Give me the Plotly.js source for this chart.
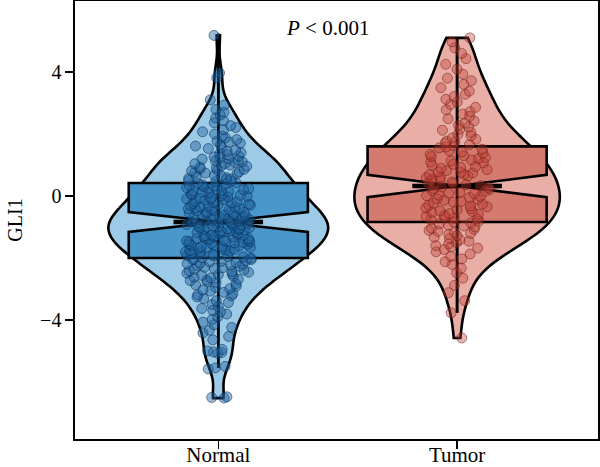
<!DOCTYPE html>
<html>
<head>
<meta charset="utf-8">
<script src="https://cdn.plot.ly/plotly-3.0.1.min.js"></script>
<style>
  html, body { margin: 0; padding: 0; background: #ffffff; }
  #chart { width: 600px; height: 467px; }
</style>
</head>
<body>
<div id="chart"></div>
<script>
// Groups on the x axis
const groups = ['Normal', 'Tumor'];

// GLI1 expression values per sample
const normalValues = [
  5.18,
  3.97, 3.81,
  3.1, 2.93, 2.79,
  2.7, 2.61, 2.52, 2.43, 2.36, 2.27,
  2.21, 2.14, 2.07, 2.0, 1.93, 1.88, 1.82, 1.77,
  1.74, 1.7, 1.65, 1.61, 1.57, 1.53, 1.48, 1.44, 1.4, 1.36, 1.33, 1.29, 1.26,
  1.23, 1.21, 1.19, 1.15, 1.13, 1.11, 1.08, 1.05, 1.04, 1.0, 0.98, 0.96, 0.93, 0.91, 0.88, 0.86, 0.83, 0.81, 0.78, 0.76,
  0.74, 0.72, 0.67, 0.64, 0.63, 0.59, 0.57, 0.55, 0.53, 0.5, 0.48, 0.46, 0.43, 0.41, 0.39, 0.36, 0.34, 0.32, 0.3, 0.27, 0.25,
  0.24, 0.22, 0.2, 0.18, 0.17, 0.14, 0.13, 0.11, 0.07, 0.06, 0.04, 0.02, 0.0, -0.01, -0.03, -0.05, -0.07, -0.09, -0.1, -0.12, -0.14, -0.17, -0.19, -0.21, -0.22, -0.24,
  -0.26, -0.28, -0.29, -0.31, -0.33, -0.35, -0.36, -0.38, -0.4, -0.41, -0.43, -0.45, -0.46, -0.48, -0.5, -0.52, -0.53, -0.55, -0.56, -0.58, -0.6, -0.61, -0.63, -0.65, -0.66, -0.68, -0.69, -0.71, -0.72, -0.74,
  -0.75, -0.77, -0.78, -0.79, -0.8, -0.82, -0.83, -0.84, -0.86, -0.87, -0.89, -0.91, -0.92, -0.93, -0.95, -0.97, -0.98, -0.99, -1.01, -1.02, -1.03, -1.04, -1.06, -1.07, -1.08, -1.1, -1.12, -1.13, -1.15, -1.16, -1.18, -1.2, -1.22, -1.24,
  -1.26, -1.27, -1.28, -1.29, -1.31, -1.32, -1.33, -1.35, -1.37, -1.38, -1.4, -1.42, -1.43, -1.45, -1.46, -1.47, -1.48, -1.5, -1.51, -1.53, -1.54, -1.56, -1.58, -1.59, -1.61, -1.63, -1.64, -1.66, -1.67, -1.69, -1.71, -1.72, -1.74,
  -1.76, -1.78, -1.8, -1.81, -1.83, -1.85, -1.86, -1.88, -1.92, -1.93, -1.95, -1.97, -1.99, -2.01, -2.03, -2.05, -2.06, -2.09, -2.11, -2.13, -2.15, -2.17, -2.19, -2.2, -2.23, -2.25,
  -2.27, -2.3, -2.32, -2.34, -2.37, -2.39, -2.42, -2.44, -2.46, -2.49, -2.52, -2.54, -2.56, -2.59, -2.62, -2.64, -2.69, -2.71, -2.73, -2.76,
  -2.79, -2.83, -2.87, -2.91, -2.95, -2.99, -3.03, -3.07, -3.11, -3.15, -3.19, -3.22, -3.26,
  -3.31, -3.38, -3.44, -3.5, -3.57, -3.63, -3.69, -3.74,
  -3.81, -3.9, -3.98, -4.07, -4.15, -4.24,
  -4.33, -4.42, -4.53, -4.64,
  -4.95, -5.0, -5.03, -5.05, -5.08,
  -5.5, -5.55, -5.58,
  -6.48, -6.5, -6.52
];

const tumorValues = [
  5.1, 4.97,
  4.78, 4.6, 4.43,
  4.25, 4.09, 3.93, 3.8,
  3.72, 3.6, 3.49, 3.38, 3.28,
  3.21, 3.12, 3.03, 2.95, 2.86, 2.78,
  2.72, 2.64, 2.57, 2.49, 2.42, 2.35, 2.28,
  2.23, 2.16, 2.12, 2.05, 1.99, 1.94, 1.87, 1.83, 1.77,
  1.74, 1.71, 1.66, 1.63, 1.58, 1.55, 1.51, 1.46, 1.42, 1.39, 1.34, 1.3, 1.27,
  1.24, 1.2, 1.16, 1.13, 1.1, 1.07, 1.02, 0.99, 0.95, 0.92, 0.89, 0.85, 0.82, 0.78, 0.76,
  0.74, 0.7, 0.68, 0.65, 0.61, 0.59, 0.55, 0.52, 0.49, 0.45, 0.42, 0.4, 0.36, 0.33, 0.29, 0.27,
  0.24, 0.21, 0.17, 0.15, 0.12, 0.09, 0.07, 0.03, 0.01, -0.02, -0.05, -0.09, -0.11, -0.14, -0.18, -0.2, -0.23,
  -0.26, -0.3, -0.32, -0.35, -0.39, -0.41, -0.44, -0.48, -0.5, -0.53, -0.57, -0.59, -0.62, -0.66, -0.68, -0.71, -0.74,
  -0.77, -0.81, -0.84, -0.87, -0.9, -0.94, -0.97, -1.0, -1.04, -1.08, -1.11, -1.14, -1.18, -1.21, -1.24,
  -1.28, -1.33, -1.37, -1.41, -1.46, -1.5, -1.55, -1.6, -1.64, -1.68, -1.73,
  -1.8, -1.87, -1.95, -2.03, -2.12, -2.21,
  -2.33, -2.48, -2.65,
  -2.88, -3.12,
  -3.38, -3.77,
  -4.58
];

// Box summaries: quartiles, medians, whisker ends and notch half-spans
const boxQ1 = [-2.0, -0.84];
const boxMedian = [-0.84, 0.32];
const boxQ3 = [0.42, 1.6];
const whiskerLow = [-5.55, -3.77];
const whiskerHigh = [5.23, 5.1];
const notchSpan = [0.32, 0.36];

const violinFill = ['#9dcae6', '#e9afa7'];
const boxFill = ['#4a97cb', '#d47a6e'];
const pointFill = ['rgba(31,100,160,0.45)', 'rgba(190,62,52,0.38)'];
const pointEdge = ['rgba(8,45,85,0.55)', 'rgba(110,25,20,0.5)'];

const samples = [normalValues, tumorValues];
const violinWidth = [0.92, 0.86];
const violinBandwidth = [0.4, 0.5];

const traces = [];

// Density outlines
groups.forEach((g, i) => {
  traces.push({
    type: 'violin',
    x0: g,
    y: samples[i],
    name: g,
    width: violinWidth[i],
    bandwidth: violinBandwidth[i],
    spanmode: 'hard',
    points: false,
    box: { visible: false },
    meanline: { visible: false },
    fillcolor: violinFill[i],
    line: { color: '#000000', width: 2.6 },
    hoverinfo: 'skip'
  });
});

// Notched boxes
groups.forEach((g, i) => {
  traces.push({
    type: 'box',
    x: [g],
    q1: [boxQ1[i]],
    median: [boxMedian[i]],
    q3: [boxQ3[i]],
    lowerfence: [whiskerLow[i]],
    upperfence: [whiskerHigh[i]],
    notched: true,
    notchspan: [notchSpan[i]],
    notchwidth: 0.5,
    whiskerwidth: 0,
    width: 0.75,
    boxpoints: false,
    fillcolor: boxFill[i],
    line: { color: '#000000', width: 2.6 },
    hoverinfo: 'skip'
  });
});

// Whisker line running through the box
groups.forEach((g, i) => {
  traces.push({
    type: 'box',
    x: [g],
    q1: [boxMedian[i]],
    median: [boxMedian[i]],
    q3: [boxMedian[i]],
    lowerfence: [whiskerLow[i]],
    upperfence: [whiskerHigh[i]],
    whiskerwidth: 0,
    width: 0.0001,
    boxpoints: false,
    fillcolor: 'rgba(0,0,0,0)',
    line: { color: '#000000', width: 2.6 },
    hoverinfo: 'skip'
  });
});

// Heavy median bar across the notch
groups.forEach((g, i) => {
  traces.push({
    type: 'box',
    x: [g],
    q1: [boxMedian[i]],
    median: [boxMedian[i]],
    q3: [boxMedian[i]],
    lowerfence: [boxMedian[i]],
    upperfence: [boxMedian[i]],
    whiskerwidth: 0,
    width: 0.375,
    boxpoints: false,
    fillcolor: 'rgba(0,0,0,0)',
    line: { color: '#000000', width: 4.5 },
    hoverinfo: 'skip'
  });
});

// Jittered sample points
groups.forEach((g, i) => {
  traces.push({
    type: 'box',
    x0: g,
    y: samples[i],
    width: 0.75,
    boxpoints: 'all',
    jitter: 0.37,
    pointpos: 0,
    fillcolor: 'rgba(0,0,0,0)',
    line: { color: 'rgba(0,0,0,0)', width: 0 },
    marker: { size: 10, color: pointFill[i], line: { color: pointEdge[i], width: 1 } },
    hoverinfo: 'y'
  });
});

const serif = 'Liberation Serif, Times New Roman, serif';

const layout = {
  width: 600,
  height: 467,
  margin: { l: 75, r: 2, t: 1, b: 28 },
  paper_bgcolor: '#ffffff',
  plot_bgcolor: '#ffffff',
  showlegend: false,
  violinmode: 'overlay',
  boxmode: 'overlay',
  font: { family: serif, color: '#000000', size: 20 },
  xaxis: {
    type: 'category',
    categoryorder: 'array',
    categoryarray: groups,
    range: [-0.6, 1.59],
    showline: true,
    mirror: true,
    linecolor: '#000000',
    linewidth: 1.6,
    ticks: 'outside',
    ticklen: 8,
    tickwidth: 1.3,
    tickcolor: '#000000',
    ticklabelstandoff: -12,
    showgrid: false,
    zeroline: false,
    tickfont: { family: serif, size: 21, color: '#000000' }
  },
  yaxis: {
    range: [-7.84, 6.29],
    tickvals: [-4, 0, 4],
    showline: true,
    mirror: true,
    linecolor: '#000000',
    linewidth: 1.6,
    ticks: 'outside',
    ticklen: 8,
    tickwidth: 1.3,
    tickcolor: '#000000',
    showgrid: false,
    zeroline: false,
    tickfont: { family: serif, size: 20, color: '#000000' },
    title: { text: 'GLI1', font: { family: serif, size: 20, color: '#000000' }, standoff: 12 }
  },
  annotations: [{
    xref: 'x',
    yref: 'y',
    x: 0.456,
    y: 5.42,
    text: '<i>P</i> &lt; 0.001',
    showarrow: false,
    xanchor: 'center',
    yanchor: 'middle',
    font: { family: serif, size: 21, color: '#000000' }
  }]
};

Plotly.newPlot('chart', traces, layout, { displayModeBar: false, staticPlot: true });
</script>
</body>
</html>
